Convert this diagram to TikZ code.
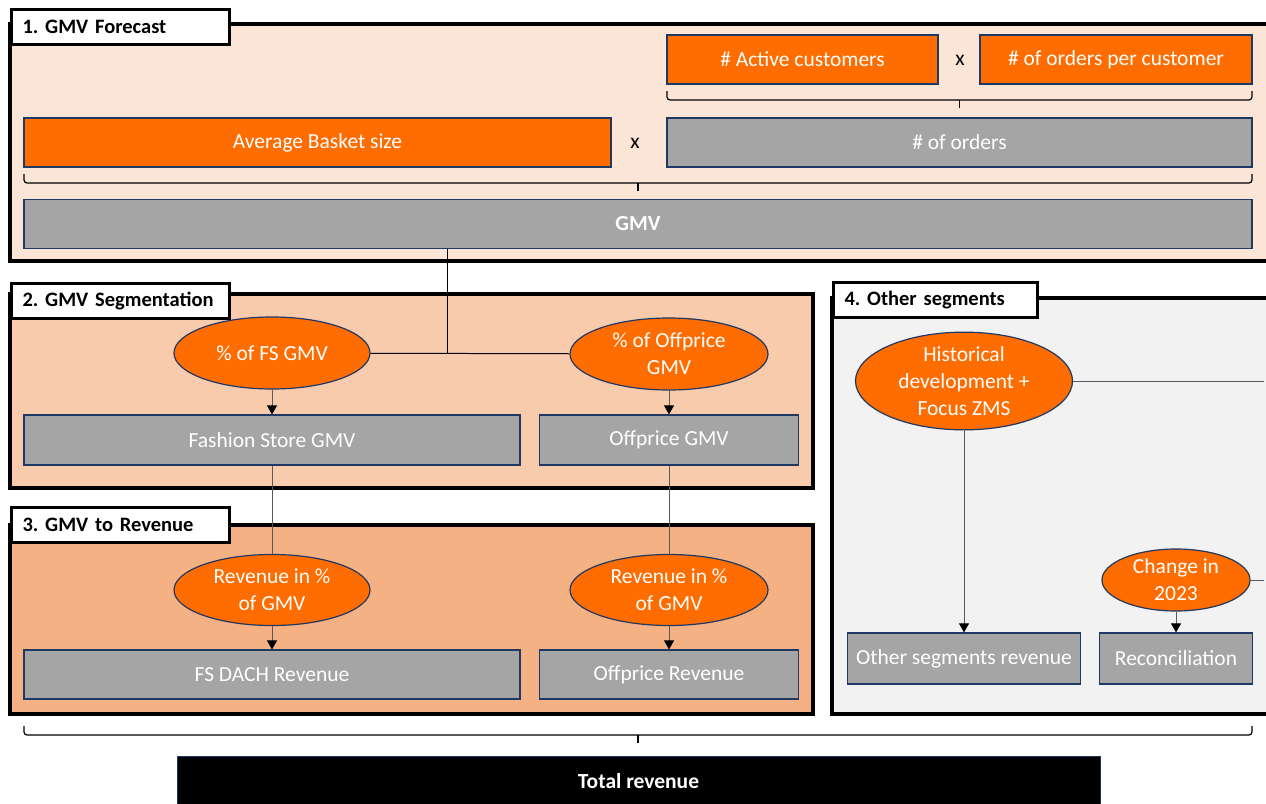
\documentclass[tikz,border=0pt]{standalone}
\usepackage{fontspec}
\setmainfont{Carlito}
\usetikzlibrary{arrows.meta,shapes.geometric}
\frenchspacing

\definecolor{fcfill}{HTML}{FBE5D6}
\definecolor{segfill}{HTML}{F8CBAD}
\definecolor{revfill}{HTML}{F4B183}
\definecolor{othfill}{HTML}{F2F2F2}
\definecolor{boxgray}{HTML}{A5A5A5}
\definecolor{driver}{HTML}{FF6C00}
\definecolor{navy}{HTML}{1F3864}

\begin{document}
\begin{tikzpicture}[x=1pt,y=-1pt,
  font=\fontsize{21.5}{27}\selectfont,
  frame/.style={line width=4pt},
  tab/.style={draw,line width=3pt,fill=white,anchor=north west,inner xsep=11pt,inner ysep=0pt,
    minimum height=35pt,text width=#1,align=left,font=\fontsize{20.5}{24}\selectfont\bfseries},
  calc/.style={draw=navy,line width=1.2pt,fill=boxgray,text=white,inner sep=0pt,minimum height=49pt},
  input/.style={calc,fill=driver},
  rate/.style={ellipse,draw=navy,line width=1.2pt,fill=driver,text=white,inner sep=0pt,align=center},
  link/.style={line width=1pt,black!65},
  feed/.style={link,-{Triangle[length=9pt,width=10pt,color=black]}},
  bracket/.style={draw,line width=1.2pt,rounded corners=3pt}
]
\useasboundingbox (0,0) rectangle (1266,803);

% section frames
\draw[frame,fill=fcfill] (10,24) rectangle (1268,261);
\draw[frame,fill=segfill] (10,294) rectangle (813,488);
\draw[frame,fill=revfill] (10,525) rectangle (813,714);
\draw[frame,fill=othfill] (832,298) rectangle (1268,714);

% section titles
\node[tab=196pt] (t1) at (10,8) {1. GMV Forecast};
\node[tab=196pt] (t2) at (10,282) {2. GMV Segmentation};
\node[tab=196pt] (t3) at (10,506) {3. GMV to Revenue};
\node[tab=182pt] (t4) at (832,281) {4. Other segments};

% 1. forecast drivers
\node[input,minimum width=271pt] (cust) at (802.5,59.5) {\# Active customers};
\node (mul1) at (960,60) {x};
\node[input,minimum width=272pt] (freq) at (1116,59.5) {\# of orders per customer};

\node[input,minimum width=587pt] (basket) at (317.5,142.5) {Average Basket size};
\node (mul2) at (635,143) {x};
\node[calc,minimum width=585pt] (orders) at (959.5,142.5) {\# of orders};

\node[calc,minimum width=1228pt,font=\fontsize{21.5}{27}\selectfont\bfseries] (gmv) at (638,224) {GMV};

% brackets: left end / right end / top
\foreach \xa/\xb/\yt in {667/1252/91, 24/1252/174, 24/1252/726}
{
	\draw[bracket] (\xa,\yt) -- (\xa,\yt+9) -- (\xb,\yt+9) -- (\xb,\yt);
	\draw[line width=1.2pt] ({(\xa+\xb)/2},\yt+9) -- ++(0,8);
}

% 2. segmentation
\node[rate,minimum width=196pt,minimum height=72pt] (fsshare) at (272,353) {\% of FS GMV};
\node[rate,minimum width=198pt,minimum height=72pt] (opshare) at (669,354) {\% of Offprice\\GMV};
\node[calc,minimum width=496pt,minimum height=50pt] (fsgmv) at (272,440) {Fashion Store GMV};
\node[calc,minimum width=259pt,minimum height=50pt] (opgmv) at (669,440) {Offprice GMV};

% 3. revenue
\node[rate,minimum width=196pt,minimum height=71pt] (fsrate) at (272,590) {Revenue in \%\\of GMV};
\node[rate,minimum width=198pt,minimum height=71pt] (oprate) at (669,590) {Revenue in \%\\of GMV};
\node[calc,minimum width=496pt] (fsrev) at (272,674.5) {FS DACH Revenue};
\node[calc,minimum width=259pt] (oprev) at (669,674.5) {Offprice Revenue};

% 4. other segments
\node[rate,minimum width=217pt,minimum height=91pt] (hist) at (964,381) {Historical\\development +\\Focus ZMS};
\node[rate,minimum width=148pt,minimum height=62pt] (chg) at (1176,580) {Change in\\2023};
\node[calc,minimum width=233pt,minimum height=51pt] (othrev) at (964,658.5) {Other segments revenue};
\node[calc,minimum width=153pt,minimum height=51pt] (recon) at (1176,658.5) {Reconciliation};

% total
\node[draw=navy,fill=black,text=white,minimum width=923pt,minimum height=50pt,inner sep=0pt,
  font=\fontsize{21.5}{27}\selectfont\bfseries] (total) at (638.5,781) {Total revenue};

% connectors
\coordinate (split) at (447,353);
\draw[line width=1pt] (gmv.south -| split) -- (split);
\draw[line width=1pt] (fsshare) -- (opshare);
\draw[feed] (fsshare) -- (fsgmv);
\draw[feed] (opshare) -- (opgmv);
\draw[link] (fsgmv) -- (fsrate);
\draw[link] (opgmv) -- (oprate);
\draw[feed] (fsrate) -- (fsrev);
\draw[feed] (oprate) -- (oprev);
\draw[feed] (hist) -- (othrev);
\draw[feed] (chg) -- (recon);
\coordinate (histout) at (1264,381);
\coordinate (chgout) at (1264,580);
\draw[link] (hist) -- (histout);
\draw[link] (chg) -- (chgout);

\end{tikzpicture}
\end{document}
